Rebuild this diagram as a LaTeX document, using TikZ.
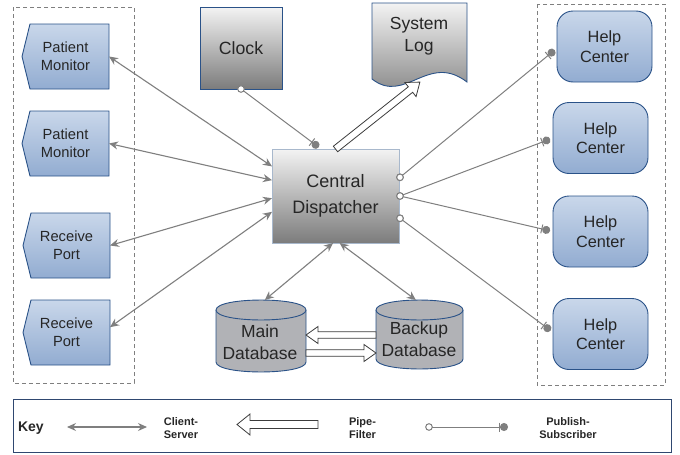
\documentclass[tikz,border=0pt]{standalone}
\usepackage{fontspec}
\setmainfont{Liberation Sans}
\usetikzlibrary{arrows.meta,calc}
\definecolor{bluetop}{HTML}{C9D7EA}
\definecolor{bluebot}{HTML}{92ACD1}
\definecolor{blueline}{HTML}{2A5288}
\definecolor{graytop}{HTML}{F3F3F3}
\definecolor{graybot}{HTML}{7C7C7C}
\definecolor{conn}{HTML}{7F7F7F}
\definecolor{txt}{HTML}{262626}
\definecolor{dbfill}{HTML}{B1B2B6}
\definecolor{cdline}{HTML}{A8B8CC}
\definecolor{keyline}{HTML}{2F4770}
\definecolor{pipeline}{HTML}{3C3C3C}

\newcommand\pipearrow[5]{%
  \path let \p1=(#1), \p2=(#2) in \pgfextra{%
    \pgfmathsetmacro\paang{atan2((\y2)-(\y1),(\x2)-(\x1))}%
    \pgfmathsetmacro\palen{veclen((\x2)-(\x1),(\y2)-(\y1))}%
    \xdef\paang{\paang}\xdef\palen{\palen}%
    \xdef\pax{\x1}\xdef\pay{\y1}};
  \begin{scope}[shift={(\pax,\pay)},rotate=\paang]
    \draw[pipe] (0pt,-#3pt) -- (\palen pt-#5pt,-#3pt) -- (\palen pt-#5pt,-#4pt) -- (\palen pt,0pt)
      -- (\palen pt-#5pt,#4pt) -- (\palen pt-#5pt,#3pt) -- (0pt,#3pt) -- cycle;
  \end{scope}}

\newcommand\pent[4]{\shade[bluepent] ({#1+8},#2) -- (#3,#2) -- (#3,#4) -- ({#1+8},#4) -- (#1,{(#2+#4)/2}) -- cycle;}

\newcommand\cyl[4]{%
  \filldraw[db] (#1,{#3+10}) -- (#1,{#4-10}) .. controls (#1,{#4+3.3}) and (#2,{#4+3.3}) .. (#2,{#4-10})
    -- (#2,{#3+10}) .. controls (#2,{#3-3.3}) and (#1,{#3-3.3}) .. (#1,{#3+10}) -- cycle;
  \draw[db] (#1,{#3+10}) .. controls (#1,{#3+23.3}) and (#2,{#3+23.3}) .. (#2,{#3+10});}

\begin{document}
\begin{tikzpicture}[x=1pt,y=-1pt,
  every node/.style={text=txt, align=center, inner sep=0pt, outer sep=0pt},
  bluepent/.style={top color=bluetop, bottom color=bluebot, draw=blueline, line width=0.9pt},
  pmtxt/.style={rectangle, minimum width=87pt, minimum height=65pt, font=\fontsize{14.7}{17.7}\selectfont},
  hc/.style={rectangle, rounded corners=16pt, top color=bluetop, bottom color=bluebot, draw=blueline,
    line width=0.9pt, minimum width=95pt, minimum height=71pt, font=\fontsize{16.3}{19.5}\selectfont},
  graybox/.style={top color=graytop, bottom color=graybot, line width=0.9pt},
  db/.style={draw=blueline, fill=dbfill, line width=0.9pt},
  dbtxt/.style={font=\fontsize{17.5}{21.7}\selectfont},
  cs/.style={draw=conn, line width=1.1pt, >={Stealth[length=9pt,width=8pt]}, <->},
  ps/.style={draw=conn, line width=1pt, -{Bar[width=9pt] Circle[length=8pt,sep=3pt]}},
  port/.style={circle, draw=conn, fill=white, line width=1pt, minimum size=6.6pt},
  pipe/.style={draw=pipeline, fill=white, line width=0.8pt, line join=miter},
  grp/.style={draw=conn, dash pattern=on 4pt off 3pt, line width=0.9pt},
  keylbl/.style={font=\bfseries\fontsize{11}{13.3}\selectfont},
]
\useasboundingbox (0,0) rectangle (680,455);

% group boxes
\draw[grp] (13,7) rectangle (134,383);
\draw[grp] (537,4) rectangle (665,385);

% left column
\pent{22}{24}{109}{89}
\node[pmtxt] (pm1) at (65.5,56.5) {Patient\\Monitor};
\pent{22}{111}{109}{176}
\node[pmtxt] (pm2) at (65.5,143.5) {Patient\\Monitor};
\pent{23}{213}{110}{278}
\node[pmtxt] (rp1) at (66.5,245.5) {Receive\\Port};
\pent{23}{300}{110}{365}
\node[pmtxt] (rp2) at (66.5,332.5) {Receive\\Port};

% clock, dispatcher
\node[graybox, draw=blueline, minimum width=82pt, minimum height=82pt, font=\fontsize{17.7}{21}\selectfont] (clock) at (241,48) {Clock};
\node[graybox, draw=cdline, minimum width=127pt, minimum height=94pt, font=\fontsize{18}{25.7}\selectfont] (cd) at (335.5,196) {Central\\Dispatcher};

% system log
\shade[top color=graytop, bottom color=graybot, draw=blueline, line width=0.9pt]
  (372,3) -- (467,3) -- (467,82) .. controls (428,52) and (405,105) .. (372,79) -- cycle;
\node[minimum width=95pt, minimum height=79pt] (log) at (419.5,42.5) {};
\node[font=\fontsize{17.5}{21.7}\selectfont] (logtxt) at (419,36) {System\\Log};
\coordinate (logb) at (420,82);

% databases
\cyl{216}{306}{300}{372}
\node[minimum width=90pt, minimum height=72pt] (main) at (261,336) {};
\node[dbtxt] (maintxt) at (260,342) {Main\\Database};
\cyl{376}{463}{300}{369}
\node[minimum width=87pt, minimum height=69pt] (backup) at (419.5,334.5) {};
\node[dbtxt] (backuptxt) at (419,339) {Backup\\Database};

% help centers
\node[hc] (hc1) at (604.5,46.5) {Help\\Center};
\node[hc] (hc2) at (600.5,138) {Help\\Center};
\node[hc] (hc3) at (600.5,231.5) {Help\\Center};
\node[hc] (hc4) at (600.5,334) {Help\\Center};

% client-server connectors
\draw[cs] (cd.155) -- (pm1.east);
\draw[cs] (cd.166) -- (pm2.east);
\draw[cs] (cd.182) -- (rp1.east);
\draw[cs] (cd.194) -- (rp2.7);
\draw[cs] (cd.267) -- (main.84);
\draw[cs] (cd.275) -- (backup.96);

% pipe-filter connectors
\pipearrow{cd.north}{logb}{3.5}{9}{12}
\pipearrow{$(backup.west)+(0,0.5)$}{$(main.east)+(0,-1)$}{3.3}{8.5}{12}
\pipearrow{$(main.east)+(0,17)$}{$(backup.west)+(0,18.5)$}{3.3}{8.5}{12}

% publish-subscribe connectors
\node[port] (clkp) at (241,89) {};
\draw[ps] (clkp) -- (cd.107);
\node[port] (p1) at (400,177.3) {};
\node[port] (p2) at (400,196) {};
\node[port] (p3) at (400,218.3) {};
\draw[ps] (p1) -- (hc1.182);
\draw[ps] (p2) -- (hc2.west);
\draw[ps] (p2) -- (hc3.west);
\draw[ps] (p3) -- (hc4.178);
\node[port] at (400,177.3) {};
\node[port] at (400,196) {};
\node[port] at (400,218.3) {};

% key
\node[draw=keyline, line width=1pt, minimum width=658pt, minimum height=53pt] (key) at (342,425.5) {};
\node[font=\bfseries\fontsize{14}{16}\selectfont, anchor=west] (keyt) at (18,428) {Key};
\coordinate (kcs1) at (67,427);
\coordinate (kcs2) at (147,427);
\draw[cs] (kcs1) -- (kcs2);
\node[keylbl] (kcsl) at (181,428) {Client-\\Server};
\coordinate (kpf1) at (318,424.5);
\coordinate (kpf2) at (237,424.5);
\pipearrow{kpf1}{kpf2}{4}{10.5}{13}
\node[keylbl] (kpfl) at (362.5,428) {Pipe-\\Filter};
\node[port] (kps1) at (429,427) {};
\coordinate (kps2) at (511,427);
\draw[ps] (kps1) -- (kps2);
\node[keylbl] (kpsl) at (568,428) {Publish-\\Subscriber};
\end{tikzpicture}
\end{document}
